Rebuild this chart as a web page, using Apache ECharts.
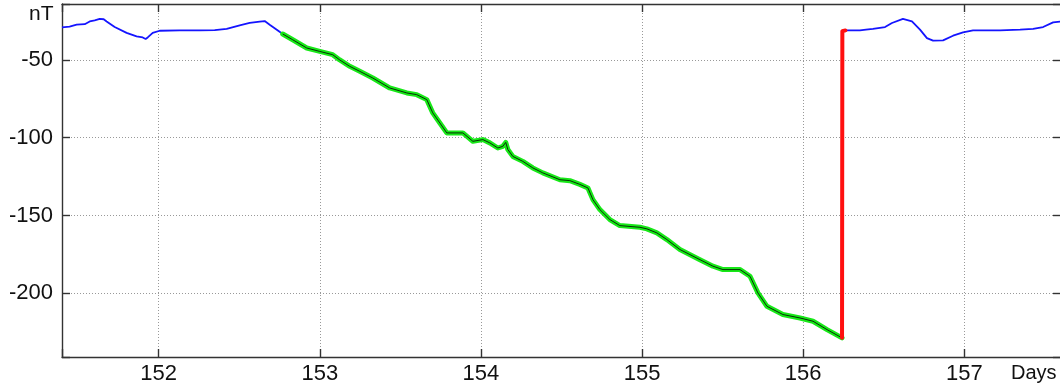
<!DOCTYPE html>
<html>
<head>
<meta charset="utf-8">
<script src="https://cdn.jsdelivr.net/npm/echarts@6/dist/echarts.min.js"></script>
<style>
html,body{margin:0;padding:0;background:#fff;}
#chart{width:1060px;height:390px;}
</style>
</head>
<body>
<div id="chart"></div>
<script>
// Quiet-time field before the storm (days, nT)
var blueBeforeDays = [151.400,151.447,151.491,151.541,151.572,151.603,151.634,151.659,151.677,151.727,151.801,151.863,151.901,151.919,151.932,151.963,152.006,152.130,152.255,152.348,152.422,152.503,152.565,152.627,152.658,152.689,152.733,152.770];
var blueBeforeVals = [-29,-28.5,-27.3,-27,-25.2,-24.5,-23.6,-23.8,-25.2,-28.8,-32.6,-34.8,-35.5,-36.5,-35.5,-32.6,-31.2,-31.0,-31,-30.8,-30,-27.8,-26.2,-25.4,-25.0,-27.3,-30.5,-33.3];

// Main phase (green)
var greenDays = [152.770,152.832,152.919,153.000,153.080,153.124,153.186,153.248,153.329,153.434,153.540,153.602,153.664,153.701,153.745,153.788,153.888,153.950,154.012,154.055,154.105,154.136,154.154,154.167,154.198,154.260,154.322,154.384,154.490,154.552,154.614,154.664,154.695,154.738,154.800,154.862,154.987,155.030,155.092,155.154,155.235,155.359,155.440,155.502,155.608,155.670,155.719,155.775,155.874,155.980,156.061,156.148,156.241];
var greenVals = [-33.3,-37,-42.3,-44.5,-46.6,-50,-54.1,-57.3,-61.6,-68,-71.2,-72.3,-75.5,-84,-90.5,-96.9,-96.9,-102.3,-101.2,-103.3,-106.6,-105.5,-103,-107.6,-112,-115.2,-119.4,-122.6,-127,-127.6,-130,-132.3,-139.8,-146.2,-152.6,-156.5,-157.6,-158.6,-161.2,-165.5,-171.9,-178.4,-182.6,-184.8,-184.8,-189.1,-199.8,-208.4,-213.7,-215.9,-218,-223.4,-228.7];

// Recovery jump (red)
var redDays = [156.241,156.243,156.262];
var redVals = [-228.7,-31.5,-31];

// Field after the storm (blue)
var blueAfterDays = [156.262,156.352,156.390,156.433,156.508,156.551,156.619,156.675,156.725,156.768,156.806,156.868,156.930,156.992,157.054,157.222,157.346,157.427,157.489,157.551,157.600];
var blueAfterVals = [-31,-31,-30.5,-30,-28.8,-26.2,-23.6,-25.2,-30.5,-35.9,-37.6,-37.4,-34.4,-32.3,-31,-31,-30.5,-30,-28.8,-25.8,-25.2];

var xTickValues = [152,153,154,155,156,157];
var yTickValues = [-200,-150,-100,-50];

function pairs(xs, ys){ return xs.map(function(x,i){ return [x, ys[i]]; }); }

var FONT = "'Liberation Sans', Arial, sans-serif";
var chart = echarts.init(document.getElementById('chart'), null, {renderer:'canvas'});

var axisLineStyle = {color:'#333', width:1.4};
var gridDash = {color:'#999', width:1, type:[1,2]};

chart.setOption({
  animation:false,
  backgroundColor:'#fff',
  grid:{left:62, width:999, top:4, height:353, containLabel:false, outerBoundsMode:'none'},
  xAxis:[{
    type:'value', min:151.4, max:157.6, minInterval:1, maxInterval:1, position:'bottom',
    axisLine:{show:true, lineStyle:axisLineStyle},
    axisTick:{show:true, inside:true, length:8, lineStyle:axisLineStyle},
    axisLabel:{show:true, margin:6, color:'#111', fontSize:22, fontFamily:FONT,
      formatter:function(v){ return xTickValues.indexOf(Math.round(v*1000)/1000) >= 0 ? String(v) : ''; }},
    splitLine:{show:true, lineStyle:gridDash}
  },{
    type:'value', min:151.4, max:157.6, minInterval:1, maxInterval:1, position:'top',
    axisLine:{show:true, lineStyle:axisLineStyle},
    axisTick:{show:true, inside:true, length:8, lineStyle:axisLineStyle},
    axisLabel:{show:false}, splitLine:{show:false}
  }],
  yAxis:[{
    type:'value', min:-241, max:-14, minInterval:50, maxInterval:50, position:'left',
    axisLine:{show:true, lineStyle:axisLineStyle},
    axisTick:{show:true, inside:true, length:8, lineStyle:axisLineStyle},
    axisLabel:{show:true, margin:9, color:'#111', fontSize:22, fontFamily:FONT,
      formatter:function(v){ return yTickValues.indexOf(Math.round(v)) >= 0 && Math.abs(v-Math.round(v))<1e-6 ? String(v) : ''; }},
    splitLine:{show:true, lineStyle:gridDash}
  },{
    type:'value', min:-241, max:-14, minInterval:50, maxInterval:50, position:'right',
    axisLine:{show:true, lineStyle:axisLineStyle},
    axisTick:{show:true, inside:true, length:8, lineStyle:axisLineStyle},
    axisLabel:{show:false}, splitLine:{show:false}
  }],
  graphic:[
    {type:'text', left:29, top:4, style:{text:'nT', fontSize:21, fontFamily:FONT, fill:'#111'}},
    {type:'text', left:1011, top:363, style:{text:'Days', fontSize:20, fontFamily:FONT, fill:'#111'}}
  ],
  series:[
    {type:'line', name:'before', data:pairs(blueBeforeDays, blueBeforeVals), showSymbol:false, symbol:'none',
      lineStyle:{color:'#1414ff', width:1.8}, z:3},
    {type:'line', name:'main', data:pairs(greenDays, greenVals), showSymbol:false, symbol:'none',
      lineStyle:{color:'#18e818', width:5, join:'round', cap:'round'}, z:4},
    {type:'line', name:'mainCore', data:pairs(greenDays, greenVals), showSymbol:false, symbol:'none',
      lineStyle:{color:'#063006', width:1}, z:5},
    {type:'line', name:'jump', data:pairs(redDays, redVals), showSymbol:false, symbol:'none',
      lineStyle:{color:'#ff0f0f', width:4, join:'round', cap:'round'}, z:6},
    {type:'line', name:'after', data:pairs(blueAfterDays, blueAfterVals), showSymbol:false, symbol:'none',
      lineStyle:{color:'#1414ff', width:1.8}, z:3}
  ]
});
</script>
</body>
</html>
